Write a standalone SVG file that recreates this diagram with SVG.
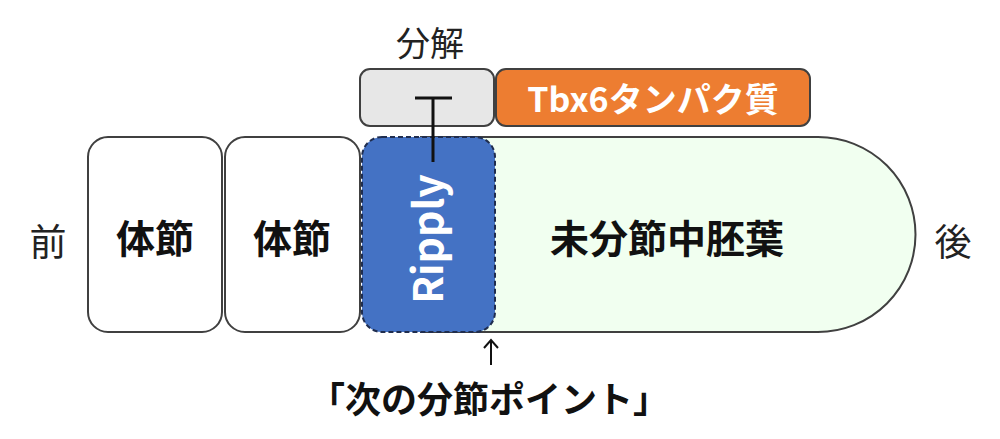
<svg xmlns="http://www.w3.org/2000/svg" width="1000" height="439" viewBox="0 0 1000 439">
<style>
.jp{font-family:"Noto Sans CJK JP","Liberation Sans",sans-serif;}
.b{font-weight:bold;}
.seg{fill:#ffffff;stroke:#404040;stroke-width:2;}
</style>
<rect width="1000" height="439" fill="#ffffff"/>
<g id="label-front"><text class="jp" x="48" y="256" font-size="37" text-anchor="middle" fill="#222">前</text></g>
<g id="label-back"><text class="jp" x="953" y="256" font-size="37" text-anchor="middle" fill="#222">後</text></g>
<g id="psm">
<path d="M420,137 H818 A97.5,97.5 0 0 1 818,332 H420" fill="#f1fff0" stroke="#404040" stroke-width="2"/>
<text class="jp b" x="667" y="253" font-size="39" text-anchor="middle" fill="#111">未分節中胚葉</text>
</g>
<g id="somite1">
<rect class="seg" x="88" y="137" width="134" height="195" rx="20"/>
<text class="jp b" x="155" y="253" font-size="39" text-anchor="middle" fill="#111">体節</text>
</g>
<g id="somite2">
<rect class="seg" x="225" y="137" width="135" height="195" rx="20"/>
<text class="jp b" x="292" y="253" font-size="39" text-anchor="middle" fill="#111">体節</text>
</g>
<g id="ripply">
<rect x="362" y="137" width="133" height="195" rx="20" fill="#4472c4" stroke="#1f2d4f" stroke-width="2" stroke-dasharray="5,3"/>
<text class="jp b" transform="translate(443,239) rotate(-90)" x="0" y="0" font-size="41" text-anchor="middle" fill="#ffffff">Ripply</text>
</g>
<g id="degraded">
<rect x="360" y="69" width="134" height="57" rx="10" fill="#e7e7e7" stroke="#404040" stroke-width="2"/>
<text class="jp" x="430" y="56" font-size="34" text-anchor="middle" fill="#222">分解</text>
</g>
<g id="tbx6">
<rect x="496" y="69" width="314" height="57" rx="10" fill="#ed7d31" stroke="#404040" stroke-width="2"/>
<text class="jp b" x="653" y="112" font-size="34" text-anchor="middle" fill="#ffffff">Tbx6タンパク質</text>
</g>
<g id="connectors" stroke="#111" fill="none">
<line x1="433" y1="98" x2="433" y2="162" stroke-width="3"/>
<line x1="415" y1="98" x2="452" y2="98" stroke-width="3"/>
<line x1="491" y1="365" x2="491" y2="340" stroke-width="2"/>
<path d="M484,348 L491,340 L498,348" stroke-width="2"/>
</g>
<g id="next-point"><text class="jp b" x="489" y="413" font-size="36" text-anchor="middle" fill="#111">「次の分節ポイント」</text></g>
</svg>
